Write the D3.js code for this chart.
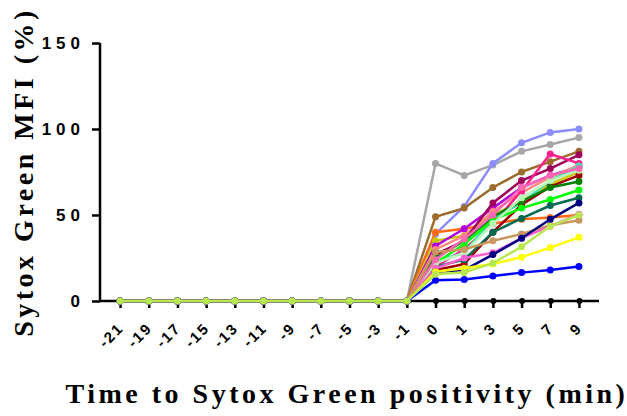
<!doctype html>
<html>
<head>
<meta charset="utf-8">
<script src="https://cdn.jsdelivr.net/npm/d3@7"></script>
<style type="text/css">
html,body{
    margin: 0;
    overflow: hidden;
    background: #fff;
}
.tick-label {
    font-family: "Liberation Sans", Arial, sans-serif;
    font-weight: bold;
}
.title {
    font-family: "Liberation Serif", "Times New Roman", serif;
    font-weight: bold;
}
</style>
</head>
<body>
<script type="text/javascript">
// time points (min) relative to Sytox Green positivity
var times = ["-21","-19","-17","-15","-13","-11","-9","-7","-5","-3","-1","0","1","3","5","7","9"];
var yTicks = [0, 50, 100, 150];

// each cell: MFI (%) at 0,1,3,5,7,9 min (all cells are 0 before)
var cellColors = [
    "#a6a6a6", "#8c8cff", "#9c6b2e", "#ff6a10", "#c8c800", "#b000e0",
    "#ff8a80", "#a0005a", "#ff2090", "#40e0b0", "#a00000", "#008000",
    "#00ff00", "#006a50", "#b8f8b8", "#ff69b4", "#c89660", "#ff60d0",
    "#000080", "#ffff00", "#0000ff", "#b8e850"
];
var cellValues = [
    [80, 73, 79, 87, 91, 95],
    [39, 55, 80, 92, 98, 100],
    [49, 54, 66, 75, 81, 87],
    [40, 42, 45, 47.5, 48.5, 50],
    [35, 38, 50, 58, 68, 75],
    [32, 42, 54, 66, 73, 78],
    [30, 38, 52, 63, 72, 79],
    [27, 35, 57, 70, 77, 85],
    [20, 30, 45, 64, 85.5, 80],
    [23, 28, 48, 57, 70, 78.5],
    [18, 21.5, 40, 56, 66.5, 73],
    [25, 35, 49, 58, 66, 69.5],
    [22, 33, 47, 54, 59, 64.5],
    [20, 24, 40, 48, 55.5, 60],
    [22, 28, 45, 60, 70, 76],
    [24, 36, 50, 66, 73, 77],
    [28.5, 30, 35, 39, 44, 47],
    [19, 25, 28, 36.5, 43.5, 50.5],
    [17, 18, 27, 36.5, 47.5, 57],
    [17, 19, 21.5, 25.5, 31, 37],
    [12, 12.5, 14.5, 16.5, 18, 20],
    [15.5, 16.5, 22, 31.5, 43.5, 50]
];

(function(){
    var w = 627, h = 416;
    var svg = d3.select("body").append("svg")
        .attr("width", w)
        .attr("height", h);

    var x = d3.scalePoint().domain(times).range([100, 599]).padding(0.7);
    var y = d3.scaleLinear().domain([0, 150]).range([301, 43]);

    var series = cellValues.map(function(v, i){
        var pts = times.map(function(t, j){
            return {t: t, v: j < 11 ? 0 : v[j - 11]};
        });
        return {color: cellColors[i], pts: pts};
    });

    // axes
    var yAxis = svg.append("g")
        .attr("transform", "translate(100,0)")
        .call(d3.axisLeft(y).tickValues(yTicks).tickSize(8).tickPadding(6));
    yAxis.select(".domain").attr("stroke-width", 2.5).attr("d", "M0,301V43");
    yAxis.selectAll(".tick line").attr("stroke-width", 2.5);
    yAxis.selectAll(".tick text")
        .attr("class", "tick-label")
        .attr("x", -15)
        .style("font-size", "17px")
        .style("letter-spacing", "5px")
        .attr("fill", "#000");

    var xAxis = svg.append("g")
        .attr("transform", "translate(0,301)")
        .call(d3.axisBottom(x).tickSize(7).tickPadding(8));
    xAxis.select(".domain").attr("stroke-width", 2.5).attr("d", "M100,0H599");
    xAxis.selectAll(".tick line").attr("stroke-width", 2.5);
    xAxis.selectAll(".tick").append("circle").attr("r", 3).attr("fill", "#000");
    xAxis.selectAll(".tick text")
        .attr("class", "tick-label")
        .style("font-size", "15px")
        .style("letter-spacing", "2px")
        .attr("fill", "#000")
        .attr("text-anchor", "end")
        .attr("x", 0)
        .attr("y", 0)
        .attr("dy", 0)
        .attr("transform", "translate(4,28) rotate(-45)");

    var line = d3.line()
        .x(function(d){ return x(d.t); })
        .y(function(d){ return y(d.v); });

    var g = svg.selectAll("g.cell").data(series).enter().append("g").attr("class", "cell");
    g.append("path")
        .attr("d", function(d){ return line(d.pts); })
        .attr("fill", "none")
        .attr("stroke", function(d){ return d.color; })
        .attr("stroke-width", 2.5);
    g.selectAll("circle").data(function(d){ return d.pts.map(function(p){ return {t: p.t, v: p.v, c: d.color}; }); })
        .enter().append("circle")
        .attr("cx", function(d){ return x(d.t); })
        .attr("cy", function(d){ return y(d.v); })
        .attr("r", 3.5)
        .attr("fill", function(d){ return d.c; });

    // titles
    svg.append("text")
        .attr("class", "title")
        .attr("transform", "translate(33,172) rotate(-90)")
        .attr("text-anchor", "middle")
        .style("font-size", "28px")
        .style("letter-spacing", "3.5px")
        .text("Sytox Green MFI (%)");

    svg.append("text")
        .attr("class", "title")
        .attr("x", 347)
        .attr("y", 403)
        .attr("text-anchor", "middle")
        .style("font-size", "28px")
        .style("letter-spacing", "3.5px")
        .text("Time to Sytox Green positivity (min)");
})();
</script>
</body>
</html>
